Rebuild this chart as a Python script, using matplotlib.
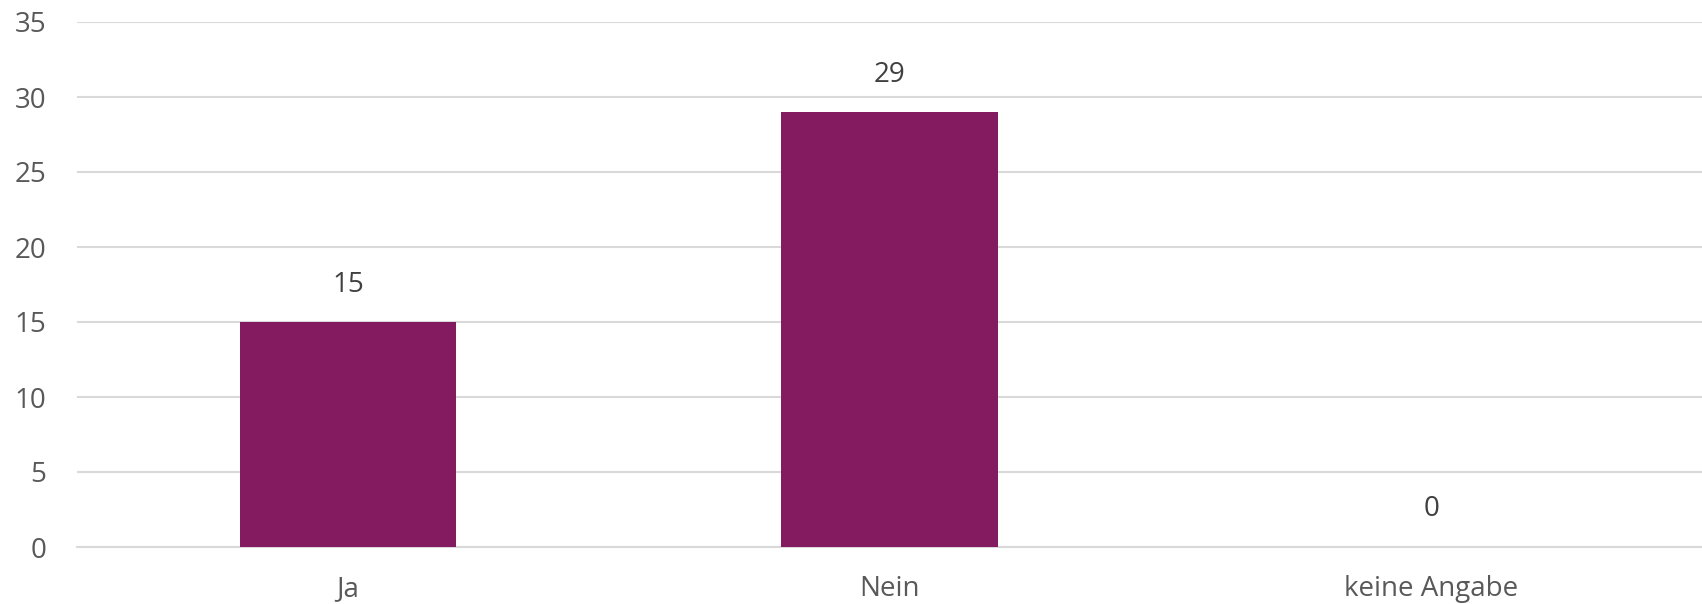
import matplotlib.pyplot as plt

categories = ['Ja', 'Nein', 'keine Angabe']
counts = [15, 29, 0]
y_ticks = [0, 5, 10, 15, 20, 25, 30, 35]

bar_colour = '#841a60'
text_colour = '#595959'
label_colour = '#404040'
grid_colour = '#d9d9d9'

plt.rcParams['font.family'] = ['Open Sans', 'DejaVu Sans']

fig = plt.figure(figsize=(17.02, 6.04), dpi=100)
ax = fig.add_axes([77 / 1702, 57 / 604, 1 - 77 / 1702, 525 / 604])

x = range(len(categories))
bars = ax.bar(x, counts, width=0.4, color=bar_colour, zorder=3)

# value labels above each bar
for xi, v in zip(x, counts):
    ax.annotate(str(v), (xi, v), xytext=(0, 27), textcoords='offset points',
                ha='center', va='center', fontsize=20, color=label_colour)

ax.set_xlim(-0.5, len(categories) - 0.5)
ax.set_ylim(0, 35)
ax.set_yticks(y_ticks)
ax.set_xticks(list(x))
ax.set_xticklabels(categories)
ax.tick_params(axis='both', length=0, labelsize=20, labelcolor=text_colour)
ax.tick_params(axis='y', pad=22)
ax.tick_params(axis='x', pad=20.5)

ax.yaxis.grid(True, color=grid_colour, linewidth=1.5, zorder=0)
for side in ['top', 'right', 'left']:
    ax.spines[side].set_visible(False)
ax.spines['bottom'].set_color(grid_colour)
ax.spines['bottom'].set_linewidth(1.5)

fig.savefig('out.png', dpi=100)
